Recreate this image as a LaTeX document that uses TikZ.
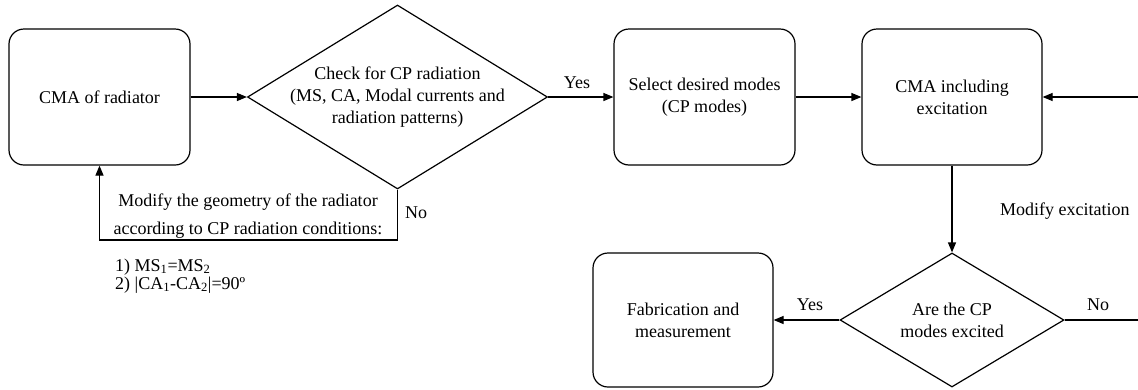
\documentclass[tikz,border=0pt]{standalone}
\usepackage{fontspec}
\setmainfont{Liberation Serif}
\usetikzlibrary{arrows.meta,shapes.geometric}
\begin{document}
\begin{tikzpicture}[x=1pt,y=-1pt,
  every node/.style={font=\fontsize{18}{22}\selectfont},
  rbox/.style={draw, rounded corners=15pt, line width=1.2pt, minimum width=181pt, minimum height=136pt, align=center, inner sep=0pt},
  dia/.style={draw, diamond, line width=1.2pt, inner sep=0pt},
  conn/.style={line width=1.2pt},
  arr/.style={conn, -{Triangle[length=10pt,width=8pt]}},
  lbl/.style={inner sep=0pt}]
\useasboundingbox (0,0) rectangle (1138,389);

\node[rbox] (b1) at (99.5,97) {CMA of radiator};
\node[dia, minimum width=300pt, minimum height=184pt] (d1) at (397.5,97) {};
\node[align=center, inner sep=0pt] (t1) at (d1.center) {Check for CP radiation\\(MS, CA, Modal currents and\\radiation patterns)};
\node[rbox] (b2) at (704.5,97) {Select desired modes\\(CP modes)};
\node[rbox, minimum width=180pt] (b3) at (952,97) {CMA including\\excitation};
\node[rbox, minimum width=180pt, minimum height=134pt] (b4) at (683,320) {Fabrication and\\measurement};
\node[dia, minimum width=224pt, minimum height=134pt] (d2) at (952,320) {};
\node[align=center, inner sep=0pt] (t2) at (d2.center) {Are the CP\\modes excited};

\coordinate (rin) at (1138,97);
\coordinate (rout) at (1138,320);
\coordinate (m) at (0,240);

\draw[arr] (b1.east) -- (d1.west);
\draw[arr] (d1.east) -- (b2.west);
\draw[arr] (b2.east) -- (b3.west);
\draw[arr] (rin) -- (b3.east);
\draw[arr] (b3.south) -- (d2.north);
\draw[arr] (d2.west) -- (b4.east);
\draw[conn] (d2.east) -- (rout);
\draw[arr] (d1.south) -- (d1.south |- m) -- (b1.south |- m) -- (b1.south);

\node[lbl] (y1) at (577,83) {Yes};
\node[lbl] (n1) at (416,213) {No};
\node[lbl, align=center, font=\fontsize{18}{28}\selectfont] (mt) at (248,216) {Modify the geometry of the radiator\\according to CP radiation conditions:};
\node[lbl, anchor=west, align=left, font=\fontsize{18}{18}\selectfont] (cond) at (115,276) {1) MS\textsubscript{1}=MS\textsubscript{2}\\2) |CA\textsubscript{1}-CA\textsubscript{2}|=90º};
\node[lbl, anchor=west] (me) at (1000,211) {Modify excitation};
\node[lbl] (y2) at (810,305) {Yes};
\node[lbl] (n2) at (1098,305) {No};
\end{tikzpicture}
\end{document}
